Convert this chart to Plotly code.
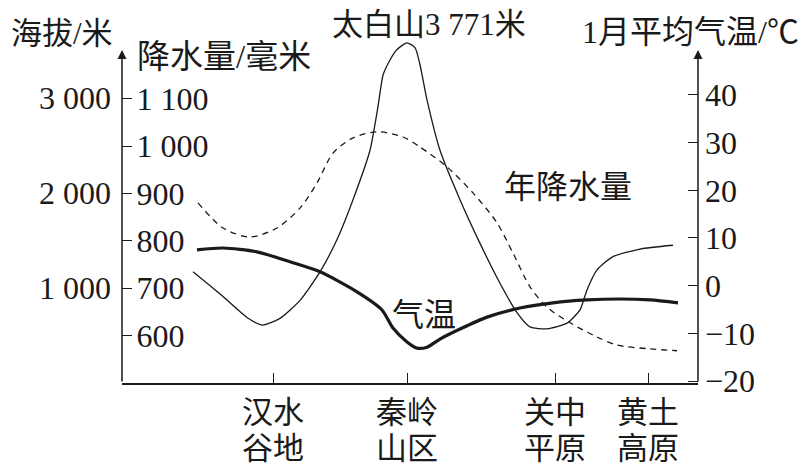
import plotly.graph_objects as go

# ---------------- data ----------------
# horizontal position along the profile (schematic distance units)
terrain_x = [71, 101, 125, 140, 158, 178, 198, 215, 231, 248, 256, 261, 268, 275, 285,
             293, 298, 305, 318, 338, 358, 378, 395, 408, 425, 445, 458, 465, 475, 491, 518, 551]
terrain_alt = [1170, 910, 690, 610, 680, 870, 1170, 1510, 1930, 2450, 2910, 3240, 3400, 3510, 3580,
               3530, 3350, 2980, 2450, 1930, 1470, 1050, 740, 590, 570, 630, 770, 980, 1190, 1330, 1410, 1450]

precip_x = [76, 101, 128, 155, 178, 195, 211, 231, 255, 281, 298, 325, 351, 375, 391,
            408, 425, 448, 475, 495, 528, 555]
precip_mm = [880, 827, 808, 827, 869, 922, 985, 1017, 1030, 1019, 998, 956, 901, 838, 774,
             703, 660, 627, 597, 580, 572, 568]

temp_x = [75, 101, 135, 168, 198, 235, 260, 271, 285, 295, 305, 318, 338, 365, 398,
          431, 465, 498, 528, 556]
temp_c = [7.5, 7.9, 7.1, 5.0, 2.9, -1.3, -5.1, -8.9, -11.8, -13.1, -12.9, -11.2, -9.1, -6.6, -4.7,
          -3.6, -3.0, -2.8, -3.0, -3.6]

region_pos = [151, 285, 433, 526]
region_line1 = ["汉水", "秦岭", "关中", "黄土"]
region_line2 = ["谷地", "山区", "平原", "高原"]

precip_ticks = [600, 700, 800, 900, 1000, 1100]
precip_ticktext = ["600", "700", "800", "900", "1 000", "1 100"]
alt_ticks = [1000, 2000, 3000]
alt_ticktext = ["1 000", "2 000", "3 000"]
temp_ticks = [-20, -10, 0, 10, 20, 30, 40]
temp_ticktext = ["\u221220", "\u221210", "0", "10", "20", "30", "40"]

# ---------------- layout geometry ----------------
# the page body has an 8px default margin, so the figure sits at (8, 8)
OFF = 8
W, H = 806 - OFF, 467 - OFF
ML, MR, MT, MB = 122 - OFF, 108, 38 - OFF, 84
PW, PH = W - ML - MR, H - MT - MB


def pxx(x):
    # reference-picture pixel -> paper x
    return (x - OFF - ML) / PW


def pxy(y):
    # reference-picture pixel -> paper y
    return (H - MB - (y - OFF)) / PH


FONT = "Liberation Serif, Times New Roman, Noto Sans CJK SC, serif"
INK = "#1a1a1a"

fig = go.Figure()
fig.add_trace(go.Scatter(x=terrain_x, y=terrain_alt, yaxis="y2", mode="lines",
                         line=dict(color=INK, width=1.3, shape="spline", smoothing=0.6),
                         name="海拔", hoverinfo="skip"))
fig.add_trace(go.Scatter(x=precip_x, y=precip_mm, yaxis="y", mode="lines",
                         line=dict(color=INK, width=1.3, dash="6px,5px", shape="spline", smoothing=0.8),
                         name="年降水量", hoverinfo="skip"))
fig.add_trace(go.Scatter(x=temp_x, y=temp_c, yaxis="y3", mode="lines",
                         line=dict(color=INK, width=3.2, shape="spline", smoothing=0.7),
                         name="气温", hoverinfo="skip"))
# invisible trace to activate the second (label-only) x axis
fig.add_trace(go.Scatter(x=[region_pos[0]], y=[precip_ticks[0]], xaxis="x2", yaxis="y",
                         mode="markers", marker=dict(opacity=0), hoverinfo="skip",
                         showlegend=False))

tickfont = dict(family=FONT, size=32, color=INK)
catfont = dict(family=FONT, size=31, color=INK)

fig.update_layout(
    width=W, height=H,
    margin=dict(l=ML, r=MR, t=MT, b=MB, autoexpand=False),
    paper_bgcolor="white", plot_bgcolor="white",
    showlegend=False,
    xaxis=dict(range=[0, PW], tickvals=region_pos, ticktext=region_line1,
               ticks="inside", ticklen=10, tickwidth=1.3, tickcolor=INK,
               showline=True, linecolor=INK, linewidth=1.5, showgrid=False, zeroline=False,
               tickfont=catfont, ticklabelstandoff=1, automargin=False),
    xaxis2=dict(range=[0, PW], tickvals=region_pos, ticktext=region_line2,
                overlaying="x", side="bottom", anchor="y", ticks="", showline=False,
                showgrid=False, zeroline=False, tickfont=catfont, ticklabelstandoff=44,
                automargin=False),
    yaxis=dict(range=[500, 500 + PH / 0.474], tickvals=precip_ticks, ticktext=precip_ticktext,
               ticks="inside", ticklen=10, tickwidth=1.3, tickcolor=INK,
               ticklabelposition="inside", showline=False, showgrid=False, zeroline=False,
               tickfont=tickfont, ticklabelstandoff=8, automargin=False),
    yaxis2=dict(range=[0, PH / 0.095], tickvals=alt_ticks, ticktext=alt_ticktext,
                overlaying="y", side="left", ticks="", showline=False, showgrid=False,
                zeroline=False, tickfont=tickfont, ticklabelstandoff=10, automargin=False),
    yaxis3=dict(range=[-20.42, -20.42 + PH / 4.767], tickvals=temp_ticks, ticktext=temp_ticktext,
                overlaying="y", side="right", anchor="x", ticks="inside", ticklen=10,
                tickwidth=1.3, tickcolor=INK, showline=False, showgrid=False, zeroline=False,
                tickfont=tickfont, ticklabelstandoff=6, automargin=False),
)

# axis lines with arrowheads
for xp in (0, 1):
    fig.add_annotation(xref="paper", yref="paper", x=xp, y=pxy(50), text="",
                       showarrow=True, ax=0, ay=383 - 50, arrowhead=2, arrowsize=1.2,
                       arrowwidth=1.5, arrowcolor=INK, standoff=0)

labels = [
    ("海拔/米", 9, 34, "left", 31),
    ("降水量/毫米", 135, 57, "left", 33),
    ("太白山3 771米", 330, 25, "left", 31),
    ("1月平均气温/℃", 580, 32, "left", 32),
    ("年降水量", 502, 187, "left", 32),
    ("气温", 390, 315, "left", 32),
]
for txt, x, y, anc, fs in labels:
    fig.add_annotation(xref="paper", yref="paper", x=pxx(x), y=pxy(y), text=txt,
                       showarrow=False, xanchor=anc, yanchor="middle",
                       font=dict(family=FONT, size=fs, color=INK))

fig.write_html("out.html")
